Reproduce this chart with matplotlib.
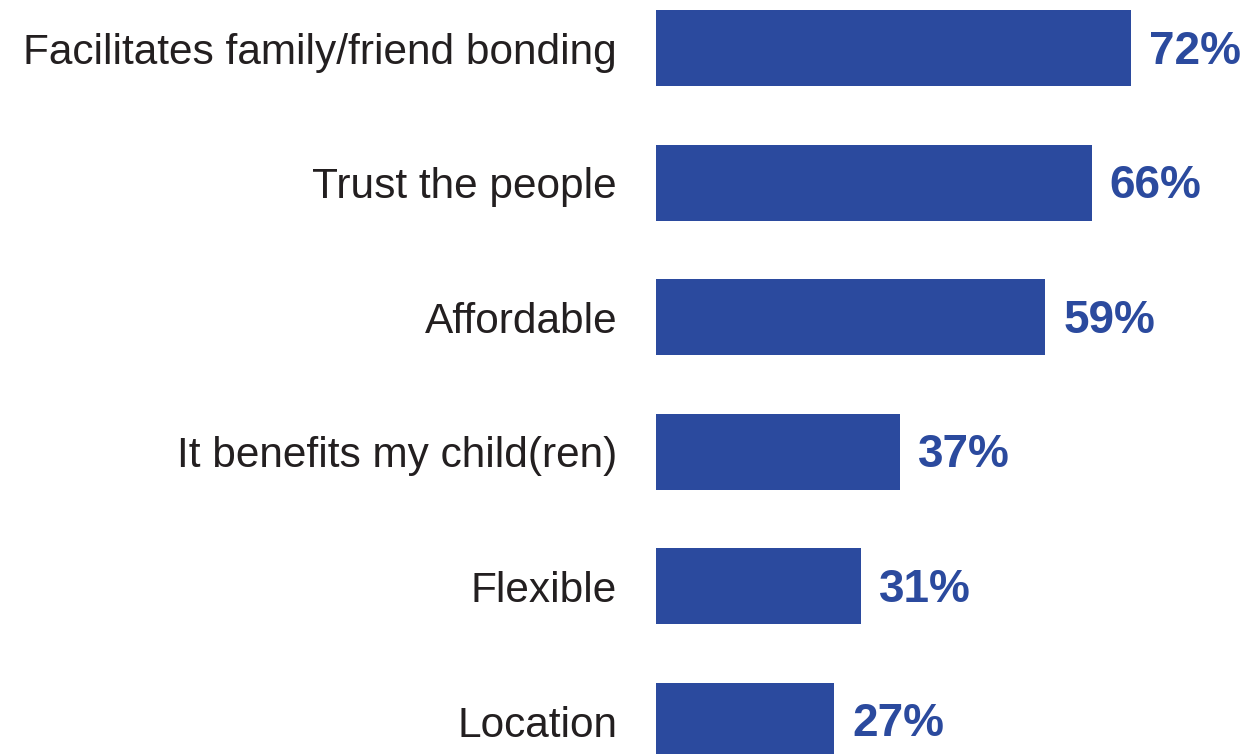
import matplotlib.pyplot as plt
from matplotlib import font_manager as fm

categorias = ["Facilitates family/friend bonding", "Trust the people", "Affordable",
              "It benefits my child(ren)", "Flexible", "Location"]
valores = [72, 66, 59, 37, 31, 27]
rotulos = ["72%", "66%", "59%", "37%", "31%", "27%"]

azul = "#2B4A9E"
texto = "#231F20"

# Arial-like face if present
nomes = {f.name for f in fm.fontManager.ttflist}
fonte = "Liberation Sans" if "Liberation Sans" in nomes else "Arimo"
plt.rcParams["font.family"] = [fonte, "DejaVu Sans"]

fig = plt.figure(figsize=(12.48, 7.54), dpi=100)
ax = fig.add_axes([656 / 1248, 0, 592 / 1248, 1])

posicoes = list(range(len(categorias)))
ax.barh(posicoes, valores, height=0.565, color=azul)

ax.set_xlim(0, 592 / 6.6)
ax.set_ylim(5.245, -0.357)

for p, v, r in zip(posicoes, valores, rotulos):
    ax.annotate(r, (v, p), xytext=(13, -2.5), textcoords="offset points",
                va="center", ha="left", fontsize=33, fontweight="bold", color=azul)

ax.set_yticks(posicoes)
ax.set_yticklabels(categorias, fontsize=30.5, color=texto)
ax.tick_params(axis="y", length=0, pad=28)
ax.set_xticks([])
for s in ax.spines.values():
    s.set_visible(False)

fig.savefig("out.png", dpi=100)
